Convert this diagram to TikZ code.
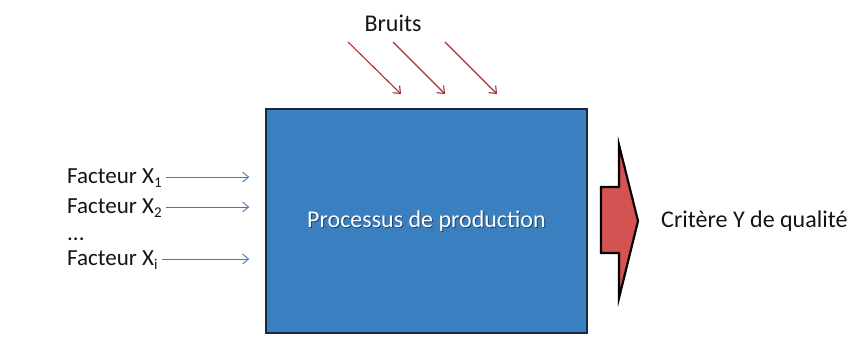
\documentclass[tikz,border=0pt]{standalone}
\usepackage{fontspec}
\setmainfont{Carlito}
\usetikzlibrary{arrows.meta}

\definecolor{procfill}{RGB}{58,128,192}
\definecolor{procedge}{RGB}{25,40,65}
\definecolor{inblue}{RGB}{70,120,175}
\definecolor{noisered}{RGB}{175,45,45}
\definecolor{outred}{RGB}{212,82,82}
\definecolor{txt}{RGB}{20,20,20}

\newcommand{\subidx}[1]{\raisebox{-4.5pt}{\fontsize{15}{15}\selectfont #1}}

\tikzset{
  label/.style={inner sep=0pt, text=txt, font=\fontsize{23}{26}\selectfont,
                text height=15pt, text depth=3pt},
  inarrow/.style={draw=inblue, line width=0.9pt, -{Straight Barb[length=6pt,width=10pt]}},
  noisearrow/.style={draw=noisered, line width=1.1pt, -{Straight Barb[length=6pt,width=10pt]}},
  procbox/.style={draw=procedge, line width=1.5pt, fill=procfill,
                  minimum width=321pt, minimum height=224pt, inner sep=0pt},
  outarrow/.style={draw=black, line width=2.2pt, fill=outred, line join=miter},
}

\begin{document}
\begin{tikzpicture}[x=1pt, y=-1pt]
  \useasboundingbox (0,0) rectangle (853,354);

  % central process block
  \node[procbox] (proc) at (426.5,221) {};
  \node[inner sep=0pt, text=procedge!70!procfill, font=\fontsize{24}{27}\selectfont]
       at ([xshift=1pt,yshift=-1.2pt]proc.center) {Processus de production};
  \node[inner sep=0pt, text=white, font=\fontsize{24}{27}\selectfont]
       (proctext) at (proc.center) {Processus de production};

  % input factors
  \node[label, anchor=base west] (f1) at (67,183) {Facteur X\subidx{1}};
  \node[label, anchor=base west] (f2) at (67,213) {Facteur X\subidx{2}};
  \node[label, anchor=base west] (fd) at (67,240) {...};
  \node[label, anchor=base west] (fi) at (67,265) {Facteur X\subidx{i}};

  \foreach \f in {f1,f2,fi}
    \draw[inarrow, shorten <=4pt, shorten >=16pt] (\f.east) -- (\f.east -| proc.west);

  % noise
  \node[label, font=\fontsize{24}{27}\selectfont] (bruits) at (393,25) {Bruits};
  \coordinate (n1s) at (348,42);  \coordinate (n1e) at (401,94);
  \coordinate (n2s) at (393,42);  \coordinate (n2e) at (445,94);
  \coordinate (n3s) at (445,42);  \coordinate (n3e) at (497,94);
  \draw[noisearrow] (n1s) -- (n1e);
  \draw[noisearrow] (n2s) -- (n2e);
  \draw[noisearrow] (n3s) -- (n3e);

  % output block arrow
  \draw[outarrow] (601,187) -- (619,187) -- (619,145) -- (638,221)
                  -- (619,298) -- (619,253) -- (601,253) -- cycle;
  \coordinate (tip) at (638,221);

  % output criterion
  \node[label, font=\fontsize{24}{27}\selectfont, anchor=west] (crit) at (661,221) {Critère Y de qualité};
\end{tikzpicture}
\end{document}
